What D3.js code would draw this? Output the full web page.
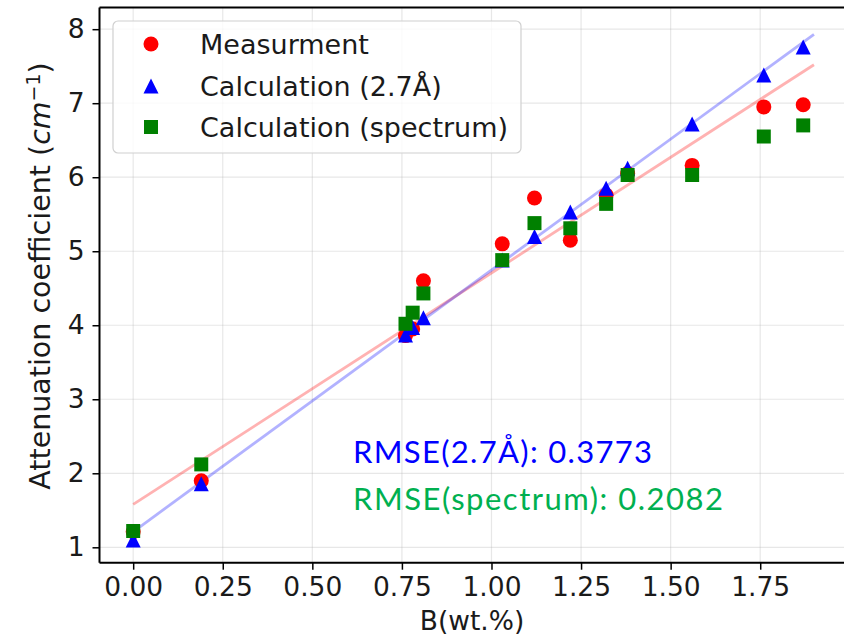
<!DOCTYPE html>
<html>
<head>
<meta charset="utf-8">
<script src="https://cdn.jsdelivr.net/npm/d3@7"></script>
<style>
  html, body { margin: 0; padding: 0; background: #fff; }
  svg { display: block; }
</style>
</head>
<body>
<svg id="chart" width="844" height="640"></svg>
<script>
// ---- data ----
const bwt = [0.00, 0.19, 0.76, 0.78, 0.81, 1.03, 1.12, 1.22, 1.32, 1.38, 1.56, 1.76, 1.87];
const measurement = [1.21, 1.90, 3.86, 3.95, 4.60, 5.10, 5.72, 5.15, 5.76, 6.05, 6.16, 6.95, 6.98];
const calc27 = [1.10, 1.86, 3.87, 3.97, 4.10, 4.88, 5.20, 5.53, 5.85, 6.12, 6.72, 7.38, 7.76];
const calcSpectrum = [1.22, 2.12, 4.02, 4.17, 4.43, 4.88, 5.38, 5.31, 5.64, 6.03, 6.03, 6.55, 6.70];
const fitX = [0, 1.9];
const fitMeasurement = [1.58, 7.52];
const fitCalc27 = [1.21, 7.93];
const xTicks = [0, 0.25, 0.5, 0.75, 1.0, 1.25, 1.5, 1.75];
const yTicks = [1, 2, 3, 4, 5, 6, 7, 8];
const legendLabels = ["Measurment", "Calculation (2.7Å)", "Calculation (spectrum)"];
const rmseLabels = ["RMSE(2.7Å): 0.3773", "RMSE(spectrum): 0.2082"];

(function () {
// ---- layout ----
const svg = d3.select("#chart");
const pL = 99.5, pR = 848, pT = 7.5, pB = 562.7;
const x = d3.scaleLinear().domain([-0.094, 1.995]).range([pL, pR]);
const y = d3.scaleLinear().domain([0.792, 8.293]).range([pB, pT]);
const font = "'DejaVu Sans', sans-serif";

// grid
const grid = svg.append("g");
grid.selectAll("line.gx").data(xTicks).enter().append("line")
  .attr("x1", d => x(d)).attr("x2", d => x(d)).attr("y1", pT).attr("y2", pB)
  .attr("stroke", "#b0b0b0").attr("stroke-opacity", 0.3).attr("stroke-width", 1.2);
grid.selectAll("line.gy").data(yTicks).enter().append("line")
  .attr("x1", pL).attr("x2", pR).attr("y1", d => y(d)).attr("y2", d => y(d))
  .attr("stroke", "#b0b0b0").attr("stroke-opacity", 0.3).attr("stroke-width", 1.2);

// fit lines
const line = d3.line().x(d => x(d[0])).y(d => y(d[1]));
svg.append("path").datum(d3.zip(fitX, fitMeasurement)).attr("d", line)
  .attr("fill", "none").attr("stroke", "red").attr("stroke-opacity", 0.3).attr("stroke-width", 2.8);
svg.append("path").datum(d3.zip(fitX, fitCalc27)).attr("d", line)
  .attr("fill", "none").attr("stroke", "blue").attr("stroke-opacity", 0.3).attr("stroke-width", 2.8);

// markers
const circ = d3.symbol().type(d3.symbolCircle).size(Math.PI * 7.5 * 7.5);
function tri(cx, cy, s) { // matplotlib '^' centred on bbox
  return `M${cx},${cy - s}L${cx + s},${cy + s}L${cx - s},${cy + s}Z`;
}
function sq(cx, cy, s) {
  return `M${cx - s},${cy - s}H${cx + s}V${cy + s}H${cx - s}Z`;
}
svg.append("g").selectAll("path").data(d3.zip(bwt, measurement)).enter().append("path")
  .attr("d", circ).attr("transform", d => `translate(${x(d[0])},${y(d[1])})`).attr("fill", "red");
svg.append("g").selectAll("path").data(d3.zip(bwt, calc27)).enter().append("path")
  .attr("d", d => tri(x(d[0]), y(d[1]), 7.5)).attr("fill", "blue");
svg.append("g").selectAll("path").data(d3.zip(bwt, calcSpectrum)).enter().append("path")
  .attr("d", d => sq(x(d[0]), y(d[1]), 7)).attr("fill", "green");

// axes
const xAxis = d3.axisBottom(x).tickValues(xTicks).tickFormat(d3.format(".2f")).tickSize(7).tickPadding(7);
const yAxis = d3.axisLeft(y).tickValues(yTicks).tickFormat(d3.format("d")).tickSize(7).tickPadding(8);
const gx = svg.append("g").attr("transform", `translate(0,${pB})`).call(xAxis);
const gy = svg.append("g").attr("transform", `translate(${pL},0)`).call(yAxis);
[gx, gy].forEach(g => {
  g.select(".domain").remove();
  g.selectAll(".tick line").attr("stroke", "#000").attr("stroke-width", 1.5);
  g.selectAll(".tick text").attr("fill", "#1a1a1a").style("font-family", font).style("font-size", "26.5px");
});
// spines
svg.append("line").attr("x1", pL).attr("x2", pL).attr("y1", pT).attr("y2", pB).attr("stroke", "#000").attr("stroke-width", 2);
svg.append("line").attr("x1", pL).attr("x2", pR).attr("y1", pB).attr("y2", pB).attr("stroke", "#000").attr("stroke-width", 2);
svg.append("line").attr("x1", pL).attr("x2", pR).attr("y1", pT).attr("y2", pT).attr("stroke", "#000").attr("stroke-width", 2);
svg.append("line").attr("x1", pR).attr("x2", pR).attr("y1", pT).attr("y2", pB).attr("stroke", "#000").attr("stroke-width", 2);

// axis labels
svg.append("text").attr("x", 472).attr("y", 630).attr("text-anchor", "middle")
  .style("font-family", font).style("font-size", "26.5px").attr("fill", "#1a1a1a").text("B(wt.%)");
const yl = svg.append("text").attr("transform", `translate(50,276) rotate(-90)`)
  .attr("text-anchor", "middle").style("font-family", font).style("font-size", "28.5px").attr("fill", "#1a1a1a");
yl.append("tspan").text("Attenuation coefficient (");
yl.append("tspan").style("font-style", "italic").text("cm");
yl.append("tspan").attr("dy", -10).style("font-size", "19px").text("−1");
yl.append("tspan").attr("dy", 10).text(")");

// legend
const lg = svg.append("g");
lg.append("rect").attr("x", 113).attr("y", 21).attr("width", 408).attr("height", 132).attr("rx", 5)
  .attr("fill", "#fff").attr("fill-opacity", 0.8).attr("stroke", "#d0d0d0").attr("stroke-width", 1.2);
const rowsY = [44, 86, 127];
lg.append("path").attr("d", circ).attr("transform", `translate(151,${rowsY[0]})`).attr("fill", "red");
lg.append("path").attr("d", tri(151, rowsY[1], 7.5)).attr("fill", "blue");
lg.append("path").attr("d", sq(151, rowsY[2], 7)).attr("fill", "green");
lg.selectAll("text").data(legendLabels).enter().append("text")
  .attr("x", 200).attr("y", (d, i) => rowsY[i] + 10)
  .style("font-family", font).style("font-size", "27px").attr("fill", "#1a1a1a").text(d => d);

// RMSE annotations
svg.append("text").attr("x", 353).attr("y", 463).style("font-family", "Lato, 'Open Sans', sans-serif")
  .style("font-size", "31px").attr("textLength", 299).attr("lengthAdjust", "spacing")
  .attr("fill", "#0000ff").text(rmseLabels[0]);
svg.append("text").attr("x", 353).attr("y", 510).style("font-family", "Lato, 'Open Sans', sans-serif")
  .style("font-size", "31px").attr("textLength", 370).attr("lengthAdjust", "spacing")
  .attr("fill", "#00b050").text(rmseLabels[1]);
})();
</script>
</body>
</html>
